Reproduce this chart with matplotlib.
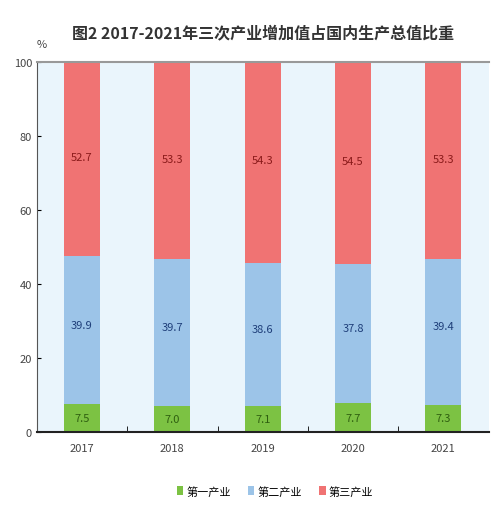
import matplotlib
matplotlib.use("Agg")
import matplotlib.pyplot as plt
import numpy as np

plt.rcParams['font.family'] = ['Noto Sans CJK SC', 'DejaVu Sans']

years = ['2017', '2018', '2019', '2020', '2021']
primary = [7.5, 7.0, 7.1, 7.7, 7.3]
secondary = [39.9, 39.7, 38.6, 37.8, 39.4]
tertiary = [52.7, 53.3, 54.3, 54.5, 53.3]
series_names = ['第一产业', '第二产业', '第三产业']
yticks = [0, 20, 40, 60, 80, 100]

fig = plt.figure(figsize=(4.91, 5.10), dpi=100)
ax = fig.add_axes([0.075, 0.151, 0.92, 0.726])
ax.set_facecolor('#eaf5fc')

x = np.arange(len(years))
w = 0.4
c1, c2, c3 = '#7cc243', '#9cc4e8', '#f07373'
b1 = ax.bar(x, primary, w, color=c1, label=series_names[0])
b2 = ax.bar(x, secondary, w, bottom=primary, color=c2, label=series_names[1])
bottom3 = [a + b for a, b in zip(primary, secondary)]
b3 = ax.bar(x, tertiary, w, bottom=bottom3, color=c3, label=series_names[2])

for i in range(len(years)):
    ax.text(x[i], primary[i] / 2, f'{primary[i]:.1f}', ha='center', va='center', fontsize=8, color='#2f5f10')
    ax.text(x[i], primary[i] + secondary[i] / 2 + 1.5, f'{secondary[i]:.1f}', ha='center', va='center', fontsize=8, color='#1f3f7a')
    ax.text(x[i], bottom3[i] + tertiary[i] / 2 + 0.5, f'{tertiary[i]:.1f}', ha='center', va='center', fontsize=8, color='#8a1a1a')

ax.set_xlim(-0.5, len(years) - 0.5)
ax.set_ylim(0, 100)
ax.set_yticks(yticks)
ax.set_yticklabels([str(t) for t in yticks], fontsize=8, color='#444444')
ax.set_xticks(x)
ax.set_xticklabels(years, fontsize=8, color='#444444')
ax.tick_params(axis='x', length=0, pad=8)
ax.set_xticks(np.arange(0.5, len(years) - 0.5, 1), minor=True)
ax.tick_params(axis='x', which='minor', length=4, direction='in')
ax.tick_params(axis='y', length=3, direction='in')
ax.spines['top'].set_color('#999999')
ax.spines['top'].set_linewidth(1.5)
ax.spines['right'].set_visible(False)
ax.spines['left'].set_color('#555555')
ax.spines['bottom'].set_color('#222222')
ax.spines['bottom'].set_linewidth(1.5)

fig.text(0.085, 0.905, '%', fontsize=8, color='#444444', ha='center')
fig.text(0.535, 0.935, '图2 2017-2021年三次产业增加值占国内生产总值比重', fontsize=11.5, fontweight='bold', ha='center', va='center', color='#333333')

fig.legend(handles=[b1, b2, b3], loc='center', bbox_to_anchor=(0.56, 0.035), ncol=3, frameon=False,
           fontsize=8, handlelength=0.6, handleheight=0.9, columnspacing=1.5, handletextpad=0.3)

fig.savefig('out.png', dpi=100, facecolor='white')
